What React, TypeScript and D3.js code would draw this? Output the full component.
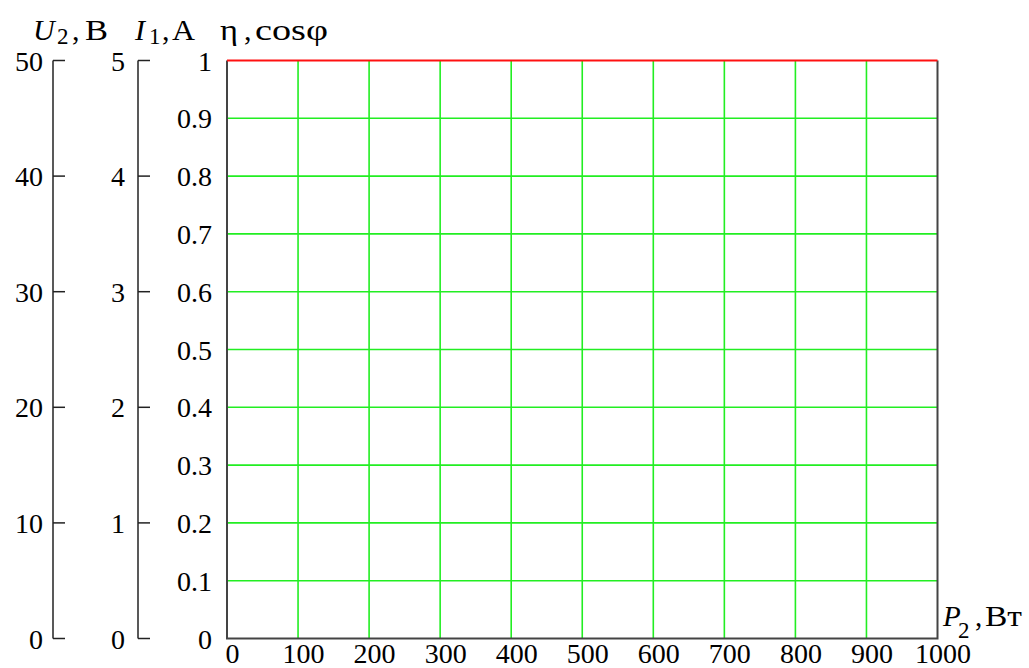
import React from "react";
import * as d3 from "d3";

const pTicks = [0, 100, 200, 300, 400, 500, 600, 700, 800, 900, 1000];
const etaTicks = [0, 0.1, 0.2, 0.3, 0.4, 0.5, 0.6, 0.7, 0.8, 0.9, 1];
const u2Ticks = [0, 10, 20, 30, 40, 50];
const i1Ticks = [0, 1, 2, 3, 4, 5];
const cosPhiLine = [
  { p: 0, v: 1 },
  { p: 1000, v: 1 },
];

const W = 1029;
const H = 668;
const FONT = "'Liberation Serif', 'Times New Roman', serif";

export default function App() {
  const x = d3.scaleLinear().domain([0, 1000]).range([227, 937.5]);
  const y = d3.scaleLinear().domain([0, 1]).range([638.5, 60.5]);
  const yU = d3.scaleLinear().domain([0, 50]).range([638.5, 60.5]);
  const yI = d3.scaleLinear().domain([0, 5]).range([638.5, 60.5]);
  const line = d3
    .line<{ p: number; v: number }>()
    .x((d) => x(d.p))
    .y((d) => y(d.v));

  const fmt = (v: number) => d3.format("~g")(v);

  const bracket = (ax: number, ticks: number[], sc: d3.ScaleLinear<number, number>, labelRight: number) => (
    <g>
      <line x1={ax} x2={ax} y1={sc(ticks[0])} y2={sc(ticks[ticks.length - 1])} stroke="#222" strokeWidth={1.5} />
      {ticks.map((t) => (
        <g key={t}>
          <line x1={ax} x2={ax + 12} y1={sc(t)} y2={sc(t)} stroke="#222" strokeWidth={1.5} />
          <text x={labelRight} y={sc(t) + 10} textAnchor="end" fontSize={28} fontFamily={FONT} fill="#000">
            {fmt(t)}
          </text>
        </g>
      ))}
    </g>
  );

  const T = (props: any) => <text fontFamily={FONT} fill="#000" fontSize={30} {...props} />;

  return (
    <svg width={W} height={H} style={{ position: "absolute", left: 0, top: 0, background: "#fff" }}>
      {/* grid */}
      {pTicks.slice(1, -1).map((t) => (
        <line key={"gx" + t} x1={x(t)} x2={x(t)} y1={y(0)} y2={y(1)} stroke="#22ee22" strokeWidth={1.6} />
      ))}
      {etaTicks.slice(1, -1).map((t) => (
        <line key={"gy" + t} x1={x(0)} x2={x(1000)} y1={y(t)} y2={y(t)} stroke="#22ee22" strokeWidth={1.6} />
      ))}
      {/* frame */}
      <path
        d={`M${x(0)},${y(1)} L${x(0)},${y(0)} L${x(1000)},${y(0)} L${x(1000)},${y(1)}`}
        fill="none"
        stroke="#444"
        strokeWidth={2}
      />
      <path d={line(cosPhiLine) || ""} fill="none" stroke="#ff1010" strokeWidth={2} />

      {/* eta tick labels */}
      {etaTicks.map((t) => (
        <text key={"ey" + t} x={212} y={y(t) + 10} textAnchor="end" fontSize={28} fontFamily={FONT} fill="#000">
          {fmt(t)}
        </text>
      ))}
      {/* x labels */}
      {pTicks.map((t) => (
        <text key={"xl" + t} x={x(t) + 5.5} y={663} textAnchor="middle" fontSize={28} fontFamily={FONT} fill="#000">
          {fmt(t)}
        </text>
      ))}

      {bracket(53, u2Ticks, yU, 43)}
      {bracket(138, i1Ticks, yI, 125)}

      {/* header labels */}
      <T x={33} y={40} fontStyle="italic">U</T>
      <T x={57} y={44} fontSize={23}>2</T>
      <T x={72} y={40}>,</T>
      <T x={85} y={40} textLength={23} lengthAdjust="spacingAndGlyphs">B</T>

      <T x={135} y={40} fontStyle="italic">I</T>
      <T x={149} y={44} fontSize={23}>1</T>
      <T x={162} y={40}>,</T>
      <T x={172} y={40} textLength={23} lengthAdjust="spacingAndGlyphs">A</T>

      <T x={220} y={40} textLength={18} lengthAdjust="spacingAndGlyphs">η</T>
      <T x={244} y={40}>,</T>
      <T x={255} y={40} textLength={73} lengthAdjust="spacingAndGlyphs">cosφ</T>

      {/* P2 label */}
      <T x={943} y={626} fontSize={29} fontStyle="italic">P</T>
      <T x={958} y={638} fontSize={23}>2</T>
      <T x={975} y={626} fontSize={29}>,</T>
      <T x={985} y={626} fontSize={29} textLength={37} lengthAdjust="spacingAndGlyphs">Вт</T>
    </svg>
  );
}
